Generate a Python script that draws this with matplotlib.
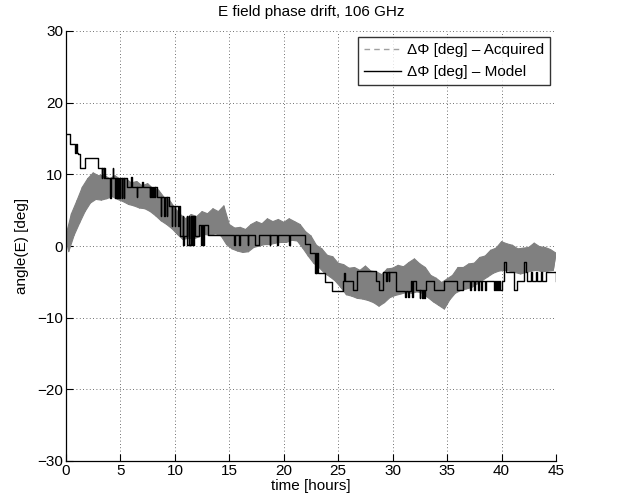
import numpy as np
import matplotlib
matplotlib.use("Agg")
import matplotlib.pyplot as plt
from matplotlib.lines import Line2D

plt.rcParams['font.family'] = ['Liberation Sans', 'DejaVu Sans']

title = "E field phase drift, 106 GHz"
xlabel = "time [hours]"
ylabel = "angle(E) [deg]"
legend_labels = ["\u0394\u03a6 [deg] \u2013 Acquired", "\u0394\u03a6 [deg] \u2013 Model"]
xticks = [0, 5, 10, 15, 20, 25, 30, 35, 40, 45]
yticks = [-30, -20, -10, 0, 10, 20, 30]

# Acquired signal: upper excursions sampled at t = 0, 0.5, ..., 45 h
acq_hi = [1.5, 4.5, 6.3, 8.2, 9.4, 10.2, 9.8, 9.9, 9.4, 9.8,
          9.3, 9.4, 8.8, 9.0, 8.4, 8.7, 8.0, 7.8, 6.8, 6.4,
          5.3, 4.4, 3.8, 4.4, 4.1, 4.8, 4.5, 5.2, 4.8, 5.6,
          3.0, 2.5, 2.6, 2.3, 3.0, 3.4, 3.1, 3.8, 3.4, 3.7,
          3.3, 3.8, 3.4, 3.0, 2.0, 1.4, 0.1, -0.4, -1.3, -1.5,
          -2.4, -2.6, -3.1, -3.0, -3.4, -2.8, -3.5, -3.6, -4.0, -3.2,
          -3.1, -2.7, -2.9, -2.3, -1.8, -2.5, -3.0, -4.1, -4.5, -5.1,
          -4.6, -4.1, -3.0, -3.0, -2.5, -2.4, -1.6, -1.4, -0.6, -0.3,
          0.6, 0.3, 0.1, -0.4, -0.3, -0.2, 0.4, -0.1, -0.2, -0.5,
          -1.0]
# Acquired signal: lower excursions sampled at t = 0.25, 0.75, ..., 44.75 h
acq_lo = [-0.8, 1.5, 3.2, 4.8, 6.0, 6.5, 6.4, 6.6, 6.9, 6.5,
          6.2, 5.8, 5.6, 5.3, 5.2, 4.8, 4.2, 3.5, 3.0, 2.4,
          1.6, 0.9, 1.1, 1.0, 1.3, 1.6, 1.5, 1.7, 1.4, 0.2,
          -0.4, -0.7, -0.9, -0.8, -0.2, 0.0, 0.2, 0.2, 0.4, 0.5,
          0.5, 0.8, 0.7, -0.3, -1.4, -2.4, -3.0, -3.8, -4.3, -4.9,
          -5.8, -6.8, -7.0, -7.3, -7.4, -7.6, -7.9, -8.4, -7.9, -7.2,
          -6.9, -6.7, -6.5, -6.6, -6.4, -6.6, -7.2, -7.8, -8.3, -8.8,
          -7.5, -6.6, -6.2, -6.0, -5.8, -5.3, -4.8, -4.3, -3.8, -3.5,
          -3.4, -3.5, -3.7, -3.9, -3.7, -3.5, -3.4, -3.6, -3.5, -3.4]

# Model: step function (change times in hours, value held after each time)
model_t = [0.0, 0.4, 0.8, 0.95, 1.05, 1.1, 1.25, 1.7, 2.9, 3.3,
           3.35, 3.45, 3.5, 3.55, 4.0, 4.05, 4.1, 4.3, 4.35, 4.5,
           4.55, 4.7, 4.75, 4.9, 4.95, 5.1, 5.15, 5.3, 5.35, 5.6,
           6.0, 6.05, 6.5, 6.55, 7.0, 7.05, 7.7, 7.75, 7.85, 7.9,
           8.0, 8.05, 8.15, 8.2, 8.4, 8.7, 8.75, 9.0, 9.05, 9.25,
           9.3, 9.5, 9.7, 9.75, 10.0, 10.05, 10.3, 10.35, 10.5, 10.7,
           10.75, 10.85, 11.1, 11.15, 11.25, 11.3, 11.45, 11.5, 11.6, 11.65,
           11.8, 11.85, 12.2, 12.4, 12.45, 12.6, 12.65, 13.0, 15.45, 15.5,
           15.9, 15.95, 16.7, 16.75, 17.4, 17.7, 18.7, 18.75, 19.4, 19.45,
           20.5, 20.55, 21.95, 22.4, 22.9, 22.95, 23.0, 23.05, 23.1, 23.8,
           24.4, 25.48, 25.55, 25.65, 26.33, 26.75, 28.45, 28.7, 29.15, 29.4,
           29.45, 29.65, 29.7, 30.28, 31.1, 31.2, 31.4, 31.5, 31.7, 31.8,
           31.85, 32.1, 32.5, 32.55, 32.7, 32.8, 32.9, 33.0, 33.1, 33.8,
           34.7, 35.9, 36.5, 37.1, 37.2, 37.5, 37.6, 37.8, 37.9, 38.1,
           38.2, 38.5, 38.6, 39.3, 39.4, 39.5, 39.6, 39.7, 39.8, 39.9,
           40.0, 40.2, 40.45, 41.15, 41.4, 42.1, 42.2, 42.3, 42.7, 42.8,
           43.2, 43.3, 43.6, 43.7, 44.1, 45.0]
model_v = [15.6, 14.2, 13.0, 14.2, 13.0, 12.8, 10.95, 12.3, 10.95, 9.5,
           10.95, 9.5, 10.95, 9.5, 8.1, 6.7, 9.5, 10.9, 9.5, 6.7,
           9.5, 6.7, 9.5, 6.7, 9.5, 6.7, 9.5, 6.7, 9.5, 8.2,
           9.6, 8.2, 6.8, 8.2, 9.0, 8.2, 6.8, 8.2, 6.8, 8.2,
           6.8, 8.2, 6.8, 8.2, 6.8, 4.2, 6.8, 4.2, 6.8, 4.2,
           6.8, 5.6, 2.8, 5.6, 2.8, 5.6, 2.8, 5.6, 1.35, 4.2,
           0.2, 1.35, 4.2, 0.2, 4.2, 0.2, 4.2, 0.2, 4.2, 0.2,
           4.2, 1.35, 3.0, 0.2, 3.0, 0.2, 3.0, 1.6, 0.2, 1.6,
           0.2, 1.6, 0.2, 1.6, 0.2, 1.6, 0.2, 1.6, 0.2, 1.6,
           0.2, 1.6, 0.3, -1.0, -3.8, -1.0, -3.8, -1.0, -3.8, -5.05,
           -6.3, -4.9, -3.7, -4.9, -6.2, -3.5, -4.9, -6.2, -3.6, -4.9,
           -3.6, -4.9, -3.6, -6.3, -7.1, -6.3, -7.1, -6.3, -4.9, -7.1,
           -4.9, -6.2, -7.3, -6.2, -7.3, -6.2, -7.3, -6.2, -4.9, -6.2,
           -4.9, -6.2, -4.9, -6.2, -4.9, -6.2, -4.9, -6.2, -4.9, -6.2,
           -4.9, -6.2, -4.9, -6.2, -4.9, -6.2, -4.9, -6.2, -4.9, -6.2,
           -4.9, -2.2, -3.6, -6.2, -4.9, -2.2, -3.6, -4.9, -3.6, -4.9,
           -3.6, -4.9, -3.6, -4.9, -3.6, -4.9]

t_hi = np.arange(len(acq_hi)) * 0.5
t_lo = np.arange(len(acq_lo)) * 0.5 + 0.25

fig = plt.figure(figsize=(6.3, 4.97), dpi=100)
ax = fig.add_axes([66/630, 1 - 461/497, (556-66)/630, (461-31)/497])

gray = '#808080'
# band of the noisy acquired signal: upper excursions forward, lower back
band_x = np.concatenate([t_hi, t_lo[::-1]])
band_y = np.concatenate([acq_hi, acq_lo[::-1]])
ax.fill(band_x, band_y, facecolor=gray, edgecolor=gray, lw=0.8)
# zig-zag through the same excursions for a noisy edge texture
zz_t = np.empty(len(t_hi) + len(t_lo))
zz_v = np.empty_like(zz_t)
zz_t[0::2] = t_hi
zz_t[1::2] = t_lo
zz_v[0::2] = acq_hi
zz_v[1::2] = acq_lo
ax.plot(zz_t, zz_v, color=gray, lw=0.8)
ax.step(model_t, model_v, where='post', color='black', lw=1.0)

ax.set_xlim(0, 45)
ax.set_ylim(-30, 30)
ax.set_xticks(xticks)
ax.set_yticks(yticks)
ax.set_yticklabels([str(v).replace('-', '\u2212') for v in yticks])
ax.tick_params(direction='in', length=5, width=0.8, labelsize=11, pad=2,
               top=False, right=False)
for s in ['top', 'right']:
    ax.spines[s].set_visible(False)
for s in ['left', 'bottom']:
    ax.spines[s].set_linewidth(0.9)
ax.grid(True, color='0.25', linestyle=(0, (1, 3)), linewidth=0.6)
ax.set_axisbelow(True)

ax.set_title(title, fontsize=11, pad=11)
ax.set_xlabel(xlabel, fontsize=11, labelpad=1)
ax.set_ylabel(ylabel, fontsize=11, labelpad=6)

handles = [Line2D([], [], color='#a0a0a0', lw=1.0, linestyle=(0, (4, 3))),
           Line2D([], [], color='black', lw=1.0)]
leg = ax.legend(handles, legend_labels, loc='upper right', fontsize=11,
                frameon=True, fancybox=False, edgecolor='black',
                borderaxespad=0.4, handlelength=2.4, handletextpad=0.4,
                labelspacing=0.5, borderpad=0.4)
leg.get_frame().set_linewidth(1.0)

fig.savefig('out.png', dpi=100)
